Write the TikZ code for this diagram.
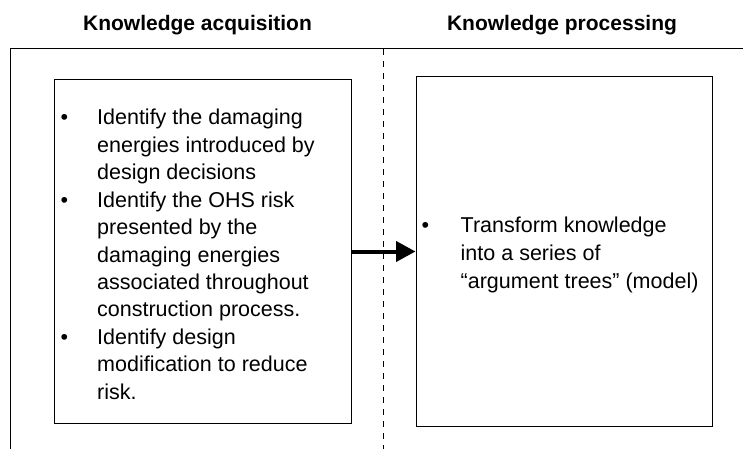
\documentclass[tikz,border=0pt]{standalone}
\usepackage{fontspec}
\setmainfont{Liberation Sans}
\usetikzlibrary{arrows.meta}
\tikzset{
  frame/.style={draw=black, line width=1pt},
  box/.style={draw=black, line width=1pt, inner sep=0pt},
  txt/.style={inner sep=0pt, anchor=base west, align=left},
  title/.style={inner sep=0pt, anchor=base, font=\fontsize{21}{25}\selectfont\bfseries},
  divider/.style={draw=black, line width=1pt, dash pattern=on 6pt off 6pt},
  flow/.style={draw=black, line width=4pt, -{Triangle[length=19.5pt,width=20pt]}}
}
\begin{document}
\begin{tikzpicture}[x=1pt,y=-1pt]
\useasboundingbox (0,0) rectangle (743,449);
% titles
\node[title] (t1) at (197.5,31) {Knowledge acquisition};
\node[title] (t2) at (562,31) {Knowledge processing};
% frame lines
\coordinate (fr) at (743,49);
\coordinate (fc) at (10,49);
\coordinate (fb) at (10,449);
\draw[frame] (fr) -- (fc) -- (fb);
\coordinate (dt) at (383,49);
\coordinate (db) at (383,449);
\draw[divider] (dt) -- (db);
% boxes
\node[box, minimum width=297pt, minimum height=343pt] (lbox) at (202.5,251.5) {};
\node[box, minimum width=296pt, minimum height=349pt] (rbox) at (564,251.5) {};
% texts
\node[txt] (ltext) at (60.3,125) {\fontsize{21.5}{27.4}\selectfont
\begin{tabular}[t]{@{}p{36.7pt}@{}l@{}}
\textbullet & Identify the damaging\\
 & energies introduced by\\
 & design decisions\\
\textbullet & Identify the OHS risk\\
 & presented by the\\
 & damaging energies\\
 & associated throughout\\
 & construction process.\\
\textbullet & Identify design\\
 & modification to reduce\\
 & risk.
\end{tabular}};
\node[txt] (rtext) at (421.3,232) {\fontsize{21.5}{28}\selectfont
\begin{tabular}[t]{@{}p{39.2pt}@{}l@{}}
\textbullet & Transform knowledge\\
 & into a series of\\
 & “argument trees” (model)
\end{tabular}};
% arrow
\draw[flow] (lbox.east) -- (rbox.west);
\end{tikzpicture}
\end{document}
